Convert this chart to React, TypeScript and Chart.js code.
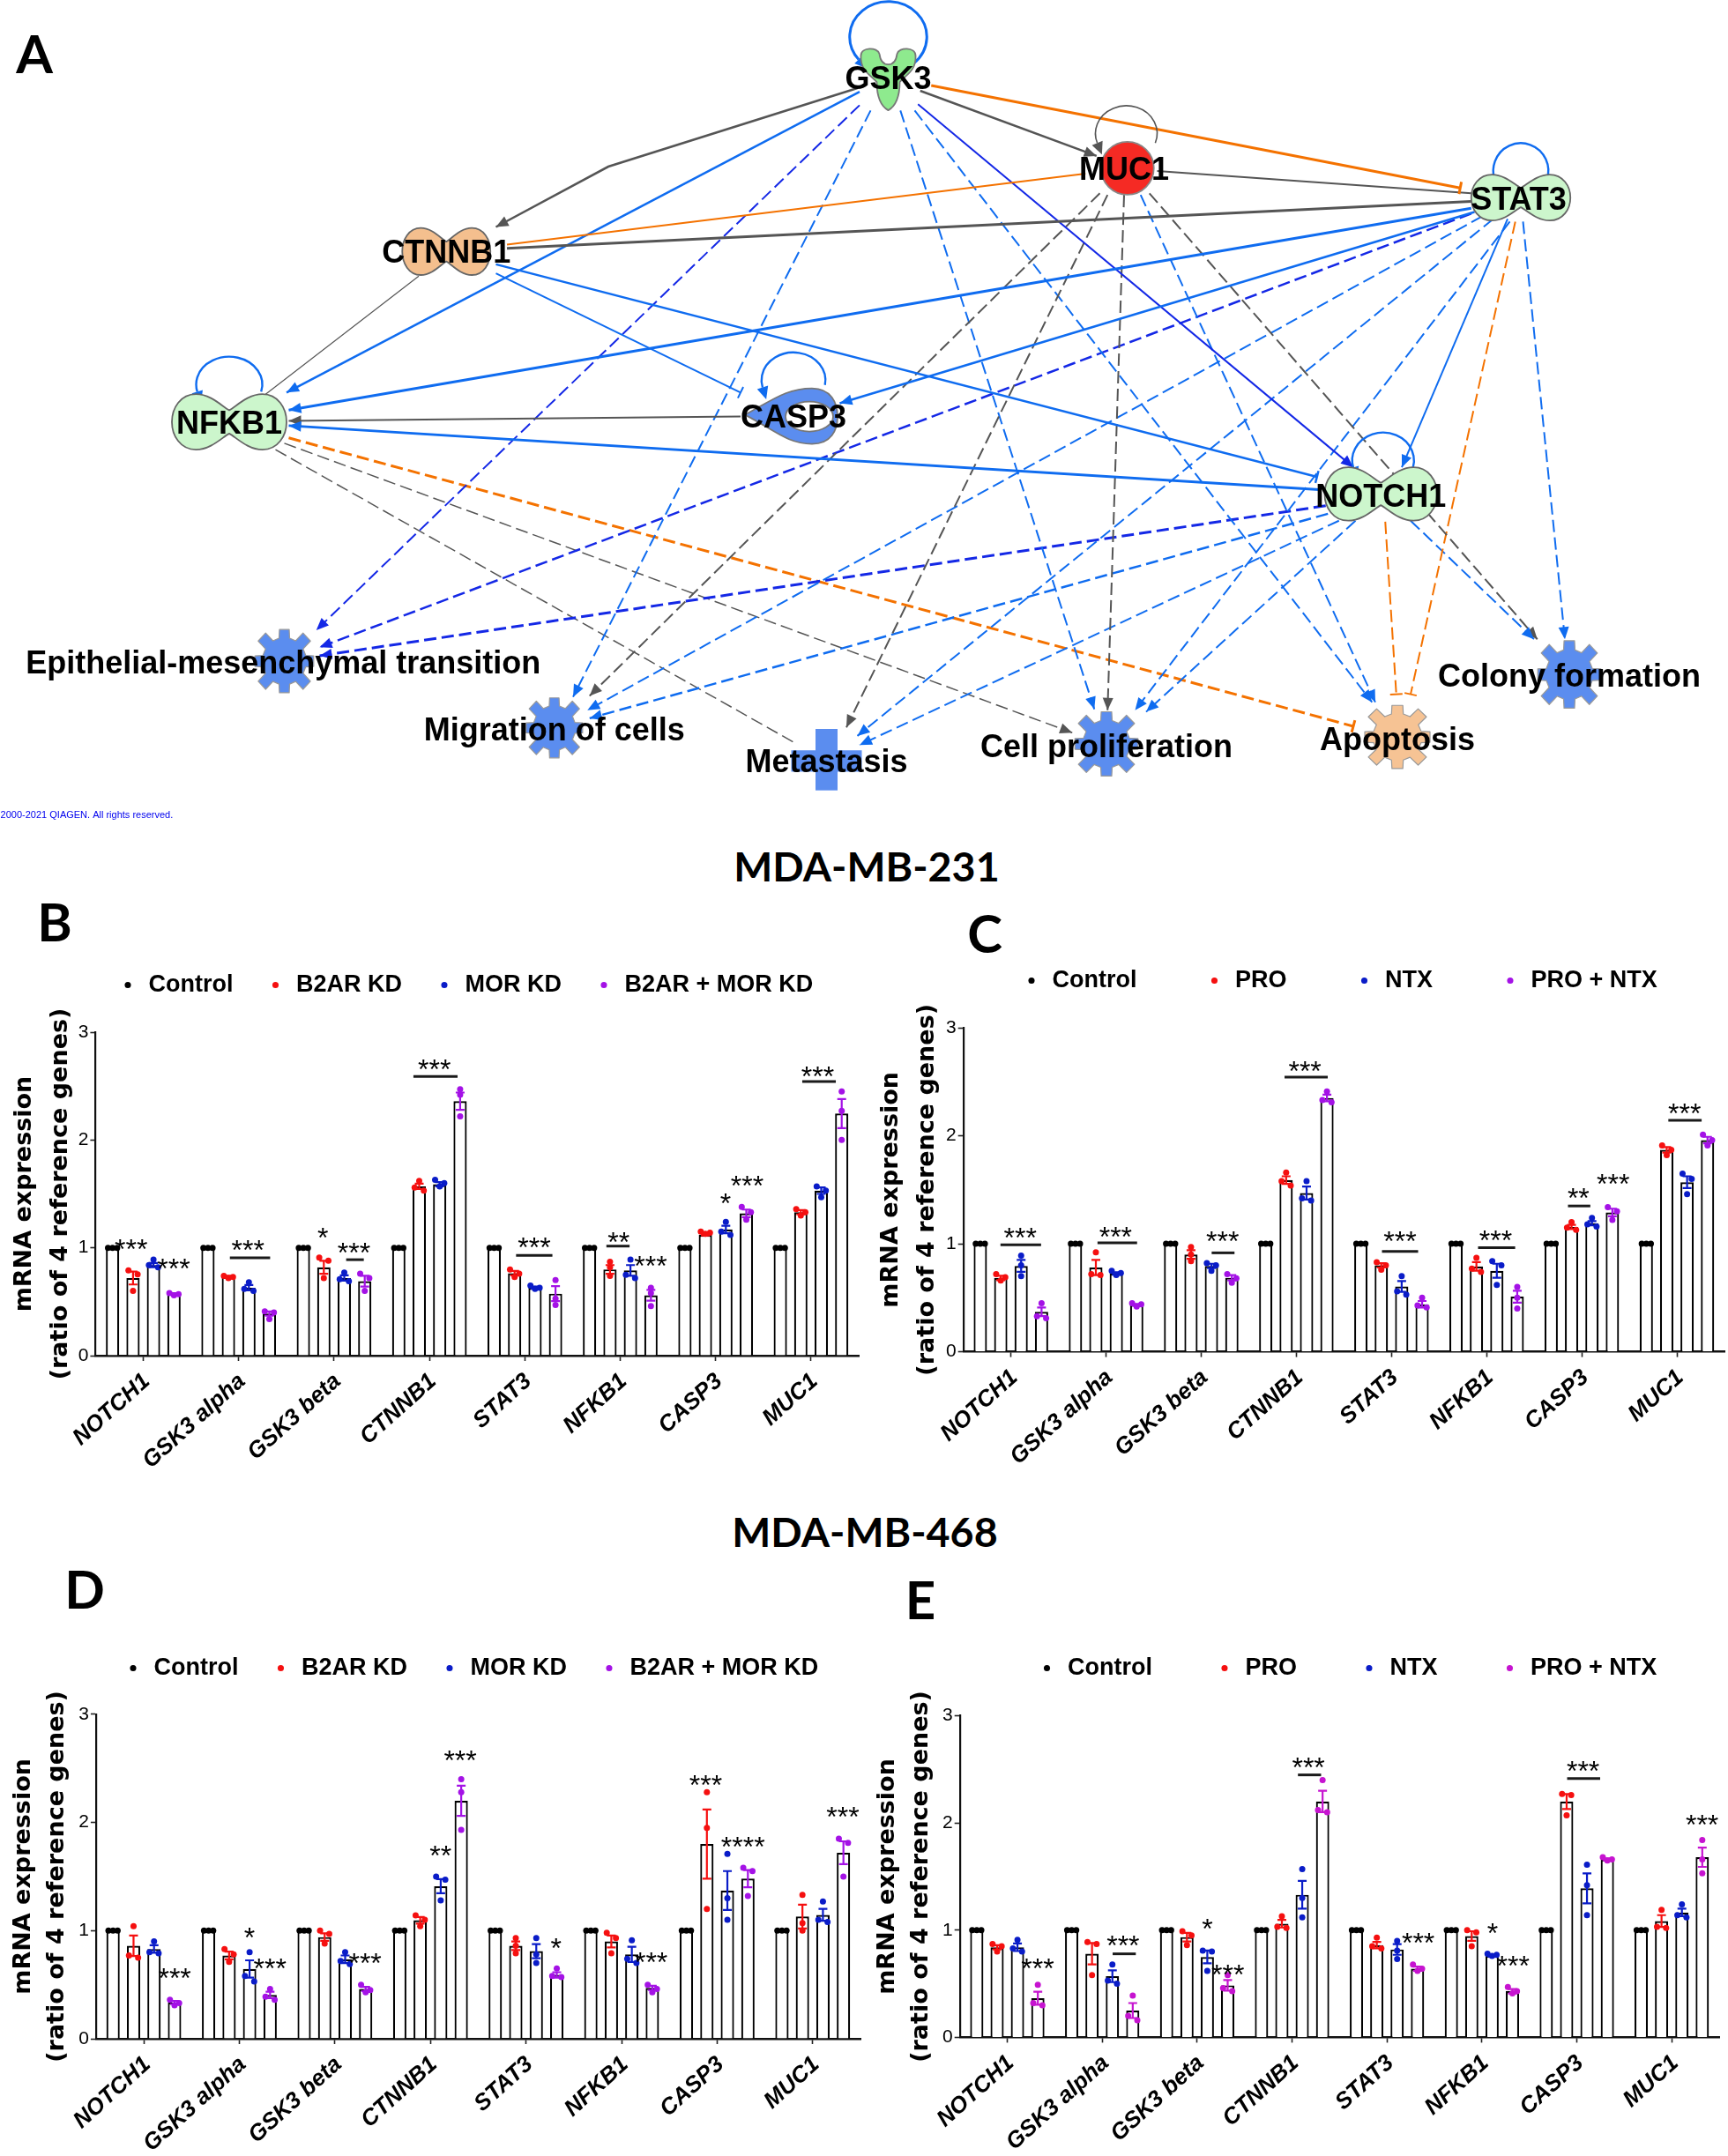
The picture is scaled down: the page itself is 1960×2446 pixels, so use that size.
import React, { useEffect, useRef } from "react";
import { Chart, registerables } from "chart.js";
Chart.register(...registerables);

const genes = ["NOTCH1", "GSK3 alpha", "GSK3 beta", "CTNNB1", "STAT3", "NFKB1", "CASP3", "MUC1"];
const yTickValues = [0, 1, 2, 3];
const controlMeans = [1, 1, 1, 1, 1, 1, 1, 1];
const controlDots = [1, 1, 1];

const legendKD = ["Control", "B2AR KD", "MOR KD", "B2AR + MOR KD"];
const legendDrug = ["Control", "PRO", "NTX", "PRO + NTX"];

// Panel B
const bMeans1 = [0.72, 0.73, 0.82, 1.57, 0.765, 0.8, 1.12, 1.33];
const bMeans2 = [0.84, 0.63, 0.72, 1.59, 0.63, 0.79, 1.17, 1.53];
const bMeans3 = [0.575, 0.39, 0.69, 2.36, 0.575, 0.56, 1.32, 2.245];
const bSem1 = [0.06, 0.01, 0.06, 0.025, 0.02, 0.04, 0.006, 0.02];
const bSem2 = [0.02, 0.025, 0.025, 0.02, 0.01, 0.05, 0.035, 0.03];
const bSem3 = [0.005, 0.02, 0.05, 0.08, 0.07, 0.05, 0.035, 0.135];
const bDots1 = [[0.79, 0.755, 0.6], [0.74, 0.73, 0.72], [0.91, 0.88, 0.72], [1.62, 1.56, 1.53], [0.8, 0.76, 0.73], [0.87, 0.82, 0.74], [1.15, 1.14, 1.13], [1.36, 1.33, 1.3]];
const bDots2 = [[0.89, 0.84, 0.82], [0.68, 0.62, 0.6], [0.77, 0.71, 0.69], [1.63, 1.6, 1.57], [0.65, 0.63, 0.62], [0.89, 0.75, 0.72], [1.24, 1.15, 1.12], [1.57, 1.53, 1.47]];
const bDots3 = [[0.58, 0.57, 0.56], [0.41, 0.4, 0.34], [0.76, 0.72, 0.6], [2.47, 2.42, 2.22], [0.7, 0.53, 0.47], [0.63, 0.58, 0.46], [1.38, 1.33, 1.26], [2.45, 2.27, 2.0]];
const bStars: [number, number, string][] = [[-0.127, 1.05, "***"], [0.318, 0.864, "***"], [1.098, 1.036, "***"], [1.884, 1.15, "*"], [2.208, 1.016, "***"], [3.052, 2.71, "***"], [4.098, 1.06, "***"], [4.983, 1.11, "**"], [5.318, 0.89, "***"], [6.104, 1.473, "*"], [6.33, 1.635, "***"], [7.07, 2.65, "***"]];
const bRules: [number, number, number][] = [[0.908, 1.33, 0.907], [2.127, 2.312, 0.89], [2.832, 3.295, 2.59], [3.908, 4.289, 0.93], [4.855, 5.098, 1.016], [6.908, 7.26, 2.543]];

// Panel C
const cMeans1 = [0.683, 0.78, 0.9, 1.59, 0.8, 0.79, 1.155, 1.87];
const cMeans2 = [0.795, 0.725, 0.795, 1.47, 0.605, 0.75, 1.19, 1.57];
const cMeans3 = [0.37, 0.435, 0.685, 2.35, 0.44, 0.51, 1.29, 1.96];
const cSem1 = [0.02, 0.07, 0.04, 0.035, 0.02, 0.04, 0.02, 0.025];
const cSem2 = [0.055, 0.012, 0.02, 0.06, 0.05, 0.065, 0.02, 0.055];
const cSem3 = [0.04, 0.008, 0.025, 0.03, 0.03, 0.055, 0.035, 0.03];
const cDots1 = [[0.72, 0.69, 0.66], [0.92, 0.72, 0.71], [0.97, 0.9, 0.84], [1.66, 1.58, 1.54], [0.83, 0.8, 0.76], [0.87, 0.77, 0.74], [1.2, 1.15, 1.13], [1.91, 1.87, 1.82]];
const cDots2 = [[0.89, 0.8, 0.7], [0.75, 0.73, 0.71], [0.82, 0.8, 0.75], [1.58, 1.42, 1.4], [0.7, 0.56, 0.53], [0.84, 0.8, 0.62], [1.24, 1.18, 1.16], [1.65, 1.6, 1.46]];
const cDots3 = [[0.45, 0.33, 0.31], [0.45, 0.44, 0.42], [0.72, 0.68, 0.64], [2.41, 2.33, 2.31], [0.5, 0.43, 0.41], [0.6, 0.5, 0.4], [1.34, 1.3, 1.22], [2.01, 1.96, 1.91]];
const cStars: [number, number, string][] = [[0.098, 1.116, "***"], [1.1, 1.123, "***"], [2.225, 1.086, "***"], [3.09, 2.66, "***"], [4.09, 1.086, "***"], [5.095, 1.092, "***"], [5.965, 1.478, "**"], [6.33, 1.613, "***"], [7.08, 2.262, "***"]];
const cRules: [number, number, number][] = [[-0.11, 0.317, 0.99], [0.91, 1.326, 1.008], [2.11, 2.35, 0.916], [2.876, 3.33, 2.543], [3.9, 4.28, 0.93], [4.91, 5.3, 0.964], [5.855, 6.09, 1.35], [6.91, 7.26, 2.144]];

// Panel D
const dMeans1 = [0.86, 0.77, 0.94, 1.095, 0.86, 0.9, 1.8, 1.13];
const dMeans2 = [0.83, 0.645, 0.735, 1.41, 0.81, 0.78, 1.37, 1.145];
const dMeans3 = [0.335, 0.405, 0.46, 2.2, 0.59, 0.47, 1.48, 1.72];
const dSem1 = [0.095, 0.035, 0.035, 0.03, 0.04, 0.055, 0.32, 0.11];
const dSem2 = [0.035, 0.08, 0.035, 0.065, 0.065, 0.07, 0.18, 0.055];
const dSem3 = [0.015, 0.03, 0.02, 0.14, 0.025, 0.02, 0.08, 0.105];
const dDots1 = [[1.04, 0.77, 0.75], [0.83, 0.78, 0.71], [1.0, 0.97, 0.88], [1.14, 1.1, 1.04], [0.93, 0.86, 0.79], [0.98, 0.93, 0.79], [2.28, 1.95, 1.2], [1.33, 1.07, 1.0]];
const dDots2 = [[0.9, 0.8, 0.79], [0.8, 0.58, 0.53], [0.8, 0.72, 0.69], [1.5, 1.47, 1.28], [0.93, 0.78, 0.7], [0.91, 0.74, 0.7], [1.71, 1.3, 1.1], [1.27, 1.1, 1.08]];
const dDots3 = [[0.36, 0.33, 0.31], [0.46, 0.39, 0.36], [0.5, 0.45, 0.43], [2.4, 2.28, 1.93], [0.65, 0.58, 0.57], [0.5, 0.46, 0.43], [1.58, 1.55, 1.32], [1.85, 1.81, 1.5]];
const dStars: [number, number, string][] = [[0.323, 0.623, "***"], [1.106, 0.997, "*"], [1.32, 0.709, "***"], [2.316, 0.761, "***"], [3.105, 1.754, "**"], [3.312, 2.63, "***"], [4.314, 0.9, "*"], [5.31, 0.768, "***"], [5.88, 2.405, "***"], [6.27, 1.834, "****"], [7.315, 2.107, "***"]];
const dRules: [number, number, number][] = [];

// Panel E
const eMeans1 = [0.84, 0.78, 0.935, 1.06, 0.86, 0.945, 2.2, 1.085];
const eMeans2 = [0.84, 0.57, 0.75, 1.33, 0.82, 0.76, 1.39, 1.165];
const eMeans3 = [0.365, 0.25, 0.485, 2.2, 0.64, 0.43, 1.66, 1.68];
const eSem1 = [0.02, 0.1, 0.04, 0.035, 0.03, 0.045, 0.07, 0.055];
const eSem2 = [0.035, 0.055, 0.06, 0.13, 0.05, 0.008, 0.14, 0.035];
const eSem3 = [0.06, 0.07, 0.05, 0.1, 0.02, 0.02, 0.01, 0.09];
const eDots1 = [[0.87, 0.85, 0.8], [0.89, 0.87, 0.58], [0.99, 0.95, 0.86], [1.13, 1.03, 1.02], [0.93, 0.85, 0.83], [1.0, 0.98, 0.85], [2.27, 2.26, 2.07], [1.19, 1.03, 1.02]];
const eDots2 = [[0.91, 0.83, 0.8], [0.68, 0.53, 0.5], [0.81, 0.8, 0.62], [1.57, 1.3, 1.12], [0.9, 0.81, 0.73], [0.78, 0.77, 0.76], [1.61, 1.42, 1.14], [1.24, 1.14, 1.12]];
const eDots3 = [[0.49, 0.32, 0.3], [0.39, 0.2, 0.16], [0.58, 0.46, 0.43], [2.4, 2.12, 2.1], [0.68, 0.64, 0.62], [0.47, 0.43, 0.41], [1.68, 1.66, 1.65], [1.84, 1.66, 1.53]];
const eStars: [number, number, string][] = [[0.32, 0.702, "***"], [1.22, 0.919, "***"], [2.109, 1.076, "*"], [2.324, 0.643, "***"], [3.173, 2.578, "***"], [4.329, 0.94, "***"], [5.113, 1.034, "*"], [5.328, 0.727, "***"], [6.066, 2.543, "***"], [7.32, 2.04, "***"]];
const eRules: [number, number, number][] = [[1.11, 1.354, 0.779], [3.062, 3.306, 2.448], [5.898, 6.246, 2.414]];

const panels = [
  { id: "B", legend: legendKD, means: [controlMeans, bMeans1, bMeans2, bMeans3], sems: [null, bSem1, bSem2, bSem3], dots: [bDots1, bDots2, bDots3], stars: bStars, rules: bRules, colors: ["#000000", "#f51010", "#0a1cc8", "#a412e6"], box: [0, 1100, 980, 600], plot: [108.4, 974, 1171, 1538], legendAt: [135, 1118], legendGap: 38, titleOffset: 7.5, titleLine: 41 },
  { id: "C", legend: legendDrug, means: [controlMeans, cMeans1, cMeans2, cMeans3], sems: [null, cSem1, cSem2, cSem3], dots: [cDots1, cDots2, cDots3], stars: cStars, rules: cRules, colors: ["#000000", "#f51010", "#0a1cc8", "#a412e6"], box: [980, 1080, 980, 620], plot: [1092.7, 1960, 1166, 1533.6], legendAt: [1160, 1113], legendGap: 78, titleOffset: 10.5, titleLine: 41 },
  { id: "D", legend: legendKD, means: [controlMeans, dMeans1, dMeans2, dMeans3], sems: [null, dSem1, dSem2, dSem3], dots: [dDots1, dDots2, dDots3], stars: dStars, rules: dRules, colors: ["#000000", "#f51010", "#0a1cc8", "#a412e6"], box: [0, 1860, 980, 586], plot: [108.9, 976, 1944.8, 2313], legendAt: [141, 1893], legendGap: 38, titleOffset: 7.5, titleLine: 38 },
  { id: "E", legend: legendDrug, means: [controlMeans, eMeans1, eMeans2, eMeans3], sems: [null, eSem1, eSem2, eSem3], dots: [eDots1, eDots2, eDots3], stars: eStars, rules: eRules, colors: ["#000000", "#f51010", "#0a1cc8", "#c614d0"], box: [980, 1860, 980, 586], plot: [1088.7, 1950, 1946.5, 2311.4], legendAt: [1177.5, 1893], legendGap: 72, titleOffset: 8, titleLine: 38 },
];

const SANS = "'Liberation Sans', Arial, sans-serif";
const BAR_STEP = 0.2145;

function spread(v: number[]) {
  const o = [0, 0, 0];
  if (v[0] - v[1] < 0.05) { o[0] = -1; o[1] = 1; }
  if (v[1] - v[2] < 0.05) {
    if (o[1] === 0) { o[1] = -1; o[2] = 1; } else { o[2] = 0; }
  }
  return o;
}

function barConfig(p: any) {
  const [cl, ct, cw, ch] = p.box;
  const [pl, pr, pt, pb] = p.plot;
  const datasets: any[] = p.means.map((m: number[], k: number) => ({
    type: "bar", label: p.legend[k] + " mean", data: m.map((y, x) => ({ x, y })), xAxisID: "x", yAxisID: "y",
    backgroundColor: "#ffffff", borderColor: "#000000", borderWidth: 2.2, borderSkipped: "bottom",
    categoryPercentage: 0.858, barPercentage: 0.65, order: 3,
  }));
  p.means.forEach((_: number[], k: number) => {
    const rows = k === 0 ? genes.map(() => controlDots) : p.dots[k - 1];
    const pts: any[] = [];
    rows.forEach((vals: number[], g: number) => {
      const off = k === 0 ? [-1, 0, 1] : spread(vals);
      vals.forEach((y: number, j: number) => pts.push({ x: g + (k - 1.5) * BAR_STEP + off[j] * 0.048, y }));
    });
    datasets.push({
      type: "scatter", label: p.legend[k], data: pts, xAxisID: "x", yAxisID: "y",
      backgroundColor: p.colors[k], borderColor: p.colors[k], pointBackgroundColor: p.colors[k], pointBorderColor: p.colors[k],
      pointRadius: 3.5, pointBorderWidth: 0, pointStyle: "circle", order: 1,
    });
  });
  const marks = {
    id: "marks",
    afterDatasetsDraw(c: any) {
      const { ctx, scales } = c;
      const xs = scales.x, ys = scales.y;
      ctx.save();
      p.sems.forEach((s: number[] | null, k: number) => {
        if (!s) return;
        ctx.strokeStyle = p.colors[k];
        ctx.lineWidth = 2.2;
        s.forEach((e, g) => {
          const x = xs.getPixelForValue(g + (k - 1.5) * BAR_STEP);
          const m = p.means[k][g];
          const y1 = ys.getPixelForValue(m + e), y2 = ys.getPixelForValue(m - e);
          ctx.beginPath();
          ctx.moveTo(x, y1); ctx.lineTo(x, y2);
          ctx.moveTo(x - 5, y1); ctx.lineTo(x + 5, y1);
          ctx.moveTo(x - 5, y2); ctx.lineTo(x + 5, y2);
          ctx.stroke();
        });
      });
      ctx.strokeStyle = "#1a1a1a";
      ctx.lineWidth = 3;
      p.rules.forEach(([a, b, v]: number[]) => {
        const y = ys.getPixelForValue(v);
        ctx.beginPath(); ctx.moveTo(xs.getPixelForValue(a), y); ctx.lineTo(xs.getPixelForValue(b), y); ctx.stroke();
      });
      ctx.fillStyle = "#000";
      ctx.font = `32px ${SANS}`;
      ctx.textAlign = "center";
      ctx.textBaseline = "alphabetic";
      p.stars.forEach(([a, v, t]: [number, number, string]) => {
        ctx.fillText(t, xs.getPixelForValue(a), ys.getPixelForValue(v) + 18);
      });
      ctx.restore();
    },
  };
  const placeLegend = {
    id: "placeLegend",
    afterLayout(c: any) {
      const lg = c.legend;
      lg.maxWidth = 3000;
      lg.fit();
      lg.left = p.legendAt[0] - cl - p.legendGap;
      lg.right = 3000;
      lg.width = lg.right - lg.left;
      lg.top = p.legendAt[1] - ct - p.legendGap - 14;
      lg.bottom = lg.top + 200;
      lg.height = 200;
    },
  };
  return {
    type: "bar",
    data: { datasets },
    plugins: [marks, placeLegend],
    options: {
      animation: false, responsive: false, devicePixelRatio: 1, events: [],
      layout: { padding: { top: pt - ct - 1, right: cl + cw - pr, left: 0, bottom: 0 } },
      plugins: {
        tooltip: { enabled: false },
        legend: {
          position: "top", align: "start", maxHeight: 1,
          labels: {
            usePointStyle: true, boxHeight: 5, boxWidth: 20, padding: p.legendGap, color: "#000",
            font: { family: SANS, size: 27, weight: "bold" },
            filter: (it: any) => it.datasetIndex >= 4,
          },
        },
      },
      scales: {
        x: {
          type: "linear", position: "bottom", min: -0.5, max: 7.5, offset: false,
          afterBuildTicks(s: any) { s.ticks = genes.map((_, value) => ({ value })); },
          grid: { display: true, drawOnChartArea: false, drawTicks: true, tickLength: 6, tickColor: "#222", tickWidth: 1.6, offset: false },
          border: { display: true, color: "#111", width: 2.4 },
          ticks: { autoSkip: false, maxRotation: 42, minRotation: 42, padding: 8, labelOffset: 4, color: "#000", font: { family: SANS, size: 26, weight: "bold", style: "italic" }, callback: (v: number) => genes[v] },
          afterFit(s: any) { s.height = ct + ch - pb; },
        },
        y: {
          type: "linear", min: 0, max: 3,
          afterBuildTicks(s: any) { s.ticks = yTickValues.map((value) => ({ value })); },
          grid: { display: true, drawOnChartArea: false, drawTicks: true, tickLength: 6, tickColor: "#222", tickWidth: 1.6 },
          border: { display: true, color: "#111", width: 2.2 },
          ticks: { padding: 2, color: "#000", font: { family: SANS, size: 21 } },
          title: {
            display: true, text: ["mRNA expression", "(ratio of 4 reference genes)"], color: "#000",
            padding: { top: p.titleOffset, bottom: 0 },
            font: { family: "'DejaVu Sans', sans-serif", size: 27, weight: "bold", lineHeight: `${p.titleLine}px` },
          },
          afterFit(s: any) { s.width = pl - cl; },
        },
      },
    },
  };
}

// ---------- Panel A network, all values in the 1568 x 1568 network frame ----------
const BLUE = "#0f6cf0", DARK = "#1428e6", GREY = "#555555", ORANGE = "#f47200";
const edges: [number[], string, number, boolean, string][] = [
  [[835, 170, 995, 292], GREY, 2.5, false, "arrow"],
  [[778, 165, 552, 312, 450, 425], GREY, 2.5, false, "arrow"],
  [[845, 160, 1325, 352], ORANGE, 3, false, "bar"],
  [[985, 325, 460, 458], ORANGE, 2, false, "none"],
  [[1050, 320, 1335, 362], GREY, 2, false, "none"],
  [[1335, 377, 460, 465], GREY, 3, false, "none"],
  [[780, 172, 260, 735], BLUE, 2.5, false, "arrow"],
  [[1335, 390, 262, 768], BLUE, 3, false, "arrow"],
  [[1338, 397, 762, 755], BLUE, 2.5, false, "arrow"],
  [[450, 512, 672, 735], BLUE, 2, false, "bar"],
  [[450, 495, 1195, 893], BLUE, 2.5, false, "bar"],
  [[672, 780, 262, 788], GREY, 2, false, "arrow"],
  [[1197, 917, 262, 797], BLUE, 3, false, "arrow"],
  [[380, 517, 240, 740], GREY, 1.2, false, "none"],
  [[833, 195, 1228, 875], DARK, 2, false, "arrow"],
  [[1368, 410, 1272, 875], BLUE, 2, false, "arrow"],
  [[1043, 362, 1395, 1197], GREY, 2, true, "arrow"],
  [[1005, 365, 768, 1362], GREY, 2, true, "arrow"],
  [[998, 362, 535, 1303], GREY, 2, true, "arrow"],
  [[1020, 365, 1005, 1330], GREY, 2, true, "arrow"],
  [[1035, 365, 1248, 1315], BLUE, 2, true, "arrow"],
  [[780, 197, 287, 1180], DARK, 2, true, "arrow"],
  [[790, 207, 520, 1305], BLUE, 2, true, "arrow"],
  [[817, 207, 993, 1328], BLUE, 2, true, "arrow"],
  [[830, 207, 1245, 1315], BLUE, 2, true, "arrow"],
  [[1335, 400, 290, 1212], DARK, 2.5, true, "arrow"],
  [[1345, 405, 533, 1330], BLUE, 2, true, "arrow"],
  [[1355, 410, 778, 1378], BLUE, 2, true, "arrow"],
  [[1370, 415, 1030, 1330], BLUE, 2, true, "arrow"],
  [[1375, 415, 1280, 1300], ORANGE, 2, true, "bar"],
  [[1382, 415, 1420, 1197], BLUE, 2, true, "arrow"],
  [[1203, 947, 290, 1228], DARK, 3, true, "arrow"],
  [[1205, 962, 535, 1345], BLUE, 2.5, true, "arrow"],
  [[1215, 975, 780, 1395], BLUE, 2, true, "arrow"],
  [[1230, 975, 1040, 1333], BLUE, 2, true, "arrow"],
  [[1257, 977, 1267, 1300], ORANGE, 2, true, "bar"],
  [[1280, 975, 1392, 1197], BLUE, 2, true, "arrow"],
  [[262, 820, 1228, 1360], ORANGE, 3, true, "bar"],
  [[258, 830, 973, 1372], GREY, 1.5, true, "arrow"],
  [[250, 842, 722, 1392], GREY, 1.5, true, "none"],
];
const selfLoops: [number, number, number, number, string, number, number, number][] = [
  [806, 69, 35, 66, BLUE, 48, 140, 3],
  [1022, 250, 28, 52, "#555555", 20, 160, 1.6],
  [1380, 320, 25, 52, BLUE, 20, 165, 2.4],
  [208, 720, 30, 52, BLUE, 15, 165, 2.4],
  [720, 712, 29, 52, BLUE, 10, 165, 2.4],
  [1255, 862, 28, 52, BLUE, 25, 165, 2.4],
];
const peanuts: [number, number, number, number, string][] = [
  [1380, 370, 45, 43, "#ccf6cc"],
  [405, 471, 40, 44, "#f4bf8e"],
  [208, 790, 52, 52, "#ccf6cc"],
  [1253, 925, 51, 50, "#ccf6cc"],
];
const gearNodes: [number, number, number, number, string][] = [
  [258, 1238, 27, 60, "#5b8def"],
  [503, 1363, 26, 57, "#5b8def"],
  [1004, 1393, 29, 61, "#5b8def"],
  [1268, 1380, 30, 60, "#f6c394"],
  [1424, 1263, 29, 64, "#5b8def"],
];
const nodeLabels: [string, number, number][] = [
  ["GSK3", 806, 145], ["MUC1", 1020, 315], ["STAT3", 1378, 372], ["CTNNB1", 405, 470], ["NFKB1", 208, 790], ["CASP3", 720, 780], ["NOTCH1", 1253, 927],
  ["Epithelial-mesenchymal transition", 257, 1240], ["Migration of cells", 503, 1365], ["Metastasis", 750, 1425], ["Cell proliferation", 1004, 1397], ["Apoptosis", 1268, 1383], ["Colony formation", 1424, 1265],
];

function networkConfig() {
  const datasets = edges.map(([path, color, width, dashed]) => {
    const data: any[] = [];
    for (let i = 0; i < path.length; i += 2) data.push({ x: path[i], y: path[i + 1] });
    return { type: "scatter", data, showLine: true, borderColor: color, borderWidth: width, borderDash: dashed ? [14, 6] : [], pointRadius: 0, fill: false, tension: 0 };
  });
  const draw = {
    id: "network",
    afterDatasetsDraw(c: any) {
      const { ctx, scales } = c;
      const X = (v: number) => scales.x.getPixelForValue(v);
      const Y = (v: number) => scales.y.getPixelForValue(v);
      const sx = X(1) - X(0), sy = Y(1) - Y(0);
      ctx.save();
      ctx.lineJoin = "round";
      edges.forEach(([path, color, width, , end]) => {
        if (end === "none") return;
        const n = path.length;
        const x2 = X(path[n - 2]), y2 = Y(path[n - 1]), x1 = X(path[n - 4]), y1 = Y(path[n - 3]);
        const a = Math.atan2(y2 - y1, x2 - x1);
        ctx.fillStyle = color; ctx.strokeStyle = color;
        if (end === "arrow") {
          ctx.beginPath();
          ctx.moveTo(x2, y2);
          ctx.lineTo(x2 - 14 * Math.cos(a) + 6 * Math.sin(a), y2 - 14 * Math.sin(a) - 6 * Math.cos(a));
          ctx.lineTo(x2 - 14 * Math.cos(a) - 6 * Math.sin(a), y2 - 14 * Math.sin(a) + 6 * Math.cos(a));
          ctx.closePath(); ctx.fill();
        } else {
          ctx.lineWidth = width;
          ctx.beginPath();
          ctx.moveTo(x2 + 7 * Math.sin(a), y2 - 7 * Math.cos(a));
          ctx.lineTo(x2 - 7 * Math.sin(a), y2 + 7 * Math.cos(a));
          ctx.stroke();
        }
      });
      selfLoops.forEach(([cx, cy, rx, ry, color, a0, a1, lw]) => {
        const RX = rx * sx, RY = ry * sy, a = (a1 * Math.PI) / 180;
        ctx.strokeStyle = color; ctx.lineWidth = lw;
        ctx.beginPath();
        ctx.ellipse(X(cx), Y(cy), RX, RY, 0, (a0 * Math.PI) / 180, a, true);
        ctx.stroke();
        const ax = X(cx) + RX * Math.cos(a), ay = Y(cy) + RY * Math.sin(a);
        const dir = Math.atan2(-RY * Math.cos(a), RX * Math.sin(a));
        ctx.fillStyle = color;
        ctx.beginPath();
        ctx.moveTo(ax + 14 * Math.cos(dir), ay + 14 * Math.sin(dir));
        ctx.lineTo(ax + 6.5 * Math.sin(dir), ay - 6.5 * Math.cos(dir));
        ctx.lineTo(ax - 6.5 * Math.sin(dir), ay + 6.5 * Math.cos(dir));
        ctx.closePath(); ctx.fill();
      });
      ctx.strokeStyle = "#666"; ctx.lineWidth = 1.8;
      peanuts.forEach(([cx, cy, w0, h0, fill]) => {
        const x = X(cx), y = Y(cy), w = w0 * sx, h = h0 * sy;
        ctx.fillStyle = fill;
        ctx.beginPath();
        ctx.moveTo(x, y - h * 0.42);
        ctx.bezierCurveTo(x - w * 0.12, y - h * 0.55, x - w * 0.32, y - h, x - w * 0.58, y - h);
        ctx.bezierCurveTo(x - w * 0.85, y - h, x - w, y - h * 0.5, x - w, y);
        ctx.bezierCurveTo(x - w, y + h * 0.5, x - w * 0.85, y + h, x - w * 0.58, y + h);
        ctx.bezierCurveTo(x - w * 0.32, y + h, x - w * 0.12, y + h * 0.55, x, y + h * 0.42);
        ctx.bezierCurveTo(x + w * 0.12, y + h * 0.55, x + w * 0.32, y + h, x + w * 0.58, y + h);
        ctx.bezierCurveTo(x + w * 0.85, y + h, x + w, y + h * 0.5, x + w, y);
        ctx.bezierCurveTo(x + w, y - h * 0.5, x + w * 0.85, y - h, x + w * 0.58, y - h);
        ctx.bezierCurveTo(x + w * 0.32, y - h, x + w * 0.12, y - h * 0.55, x, y - h * 0.42);
        ctx.closePath(); ctx.fill(); ctx.stroke();
      });
      // GSK3 enzyme shape
      {
        const ox = X(806), oy = Y(91);
        ctx.fillStyle = "#8eea8e";
        ctx.strokeStyle = "#777";
        ctx.beginPath();
        ctx.moveTo(ox, oy + 70);
        ctx.bezierCurveTo(ox - 10, oy + 64, ox - 13, oy + 52, ox - 13, oy + 38);
        ctx.bezierCurveTo(ox - 20, oy + 30, ox - 32, oy + 25, ox - 31, oy + 8);
        ctx.bezierCurveTo(ox - 31, oy - 2, ox - 12, oy - 2, ox - 10, oy + 6);
        ctx.bezierCurveTo(ox - 9, oy + 14, ox - 5, oy + 18, ox, oy + 18);
        ctx.bezierCurveTo(ox + 5, oy + 18, ox + 9, oy + 14, ox + 10, oy + 6);
        ctx.bezierCurveTo(ox + 12, oy - 2, ox + 31, oy - 2, ox + 31, oy + 8);
        ctx.bezierCurveTo(ox + 32, oy + 25, ox + 20, oy + 30, ox + 13, oy + 38);
        ctx.bezierCurveTo(ox + 13, oy + 52, ox + 10, oy + 64, ox, oy + 70);
        ctx.closePath(); ctx.fill(); ctx.stroke();
      }
      // MUC1
      ctx.fillStyle = "#f52a24"; ctx.strokeStyle = "#888";
      ctx.beginPath(); ctx.ellipse(X(1023), Y(315), 30, 30, 0, 0, Math.PI * 2); ctx.fill(); ctx.stroke();
      // CASP3 ring
      {
        const ox = X(734.4), oy = Y(780);
        ctx.fillStyle = "#5b8def"; ctx.strokeStyle = "#777";
        ctx.beginPath();
        ctx.moveTo(ox - 73, oy - 2);
        ctx.bezierCurveTo(ox - 40, oy - 20, ox - 25, oy - 32, ox + 3, oy - 32);
        ctx.bezierCurveTo(ox + 25, oy - 32, ox + 32, oy - 15, ox + 32, oy);
        ctx.bezierCurveTo(ox + 32, oy + 15, ox + 25, oy + 31, ox + 3, oy + 31);
        ctx.bezierCurveTo(ox - 25, oy + 31, ox - 40, oy + 15, ox - 73, oy - 2);
        ctx.closePath(); ctx.fill(); ctx.stroke();
        ctx.fillStyle = "#fff";
        ctx.beginPath(); ctx.ellipse(ox, oy, 27, 17, 0, 0, Math.PI * 2); ctx.fill(); ctx.stroke();
      }
      // gears
      gearNodes.forEach(([cx, cy, rx0, ry0, fill]) => {
        const x = X(cx), y = Y(cy), rx = rx0 * sx, ry = ry0 * sy;
        ctx.fillStyle = fill; ctx.strokeStyle = "#999"; ctx.lineWidth = 1.2;
        ctx.beginPath();
        const n = 8;
        for (let i = 0; i < n; i++) {
          const t = (i * 2 * Math.PI) / n - Math.PI / 2;
          const d = Math.PI / n;
          const tip = i % 2 ? 1.08 : 1;
          const pts = [[t - d * 0.42, tip], [t + d * 0.42, tip], [t + d * 0.62, 0.74], [t + d * 1.38, 0.74]];
          pts.forEach(([ang, r], j) => {
            const px = x + rx * r * Math.cos(ang), py = y + ry * r * Math.sin(ang);
            if (i === 0 && j === 0) ctx.moveTo(px, py); else ctx.lineTo(px, py);
          });
        }
        ctx.closePath(); ctx.fill(); ctx.stroke();
      });
      // Metastasis cross
      ctx.fillStyle = "#5b8def";
      ctx.fillRect(X(740), Y(1365), X(760) - X(740), Y(1480) - Y(1365));
      ctx.fillRect(X(718), Y(1405), X(782) - X(718), Y(1445) - Y(1405));
      // labels
      ctx.fillStyle = "#000";
      ctx.font = `bold 36px ${SANS}`;
      ctx.textAlign = "center"; ctx.textBaseline = "middle";
      nodeLabels.forEach(([t, x, y]) => ctx.fillText(t, X(x), Y(y) + 3));
      ctx.font = `11px ${SANS}`;
      ctx.fillStyle = "#0000ee";
      ctx.textAlign = "right";
      ctx.fillText("© 2000-2021 QIAGEN. All rights reserved.", X(157), Y(1526));
      ctx.restore();
    },
  };
  return {
    type: "scatter",
    data: { datasets },
    plugins: [draw],
    options: {
      animation: false, responsive: false, devicePixelRatio: 1, events: [],
      plugins: { legend: { display: false }, tooltip: { enabled: false } },
      layout: { padding: 0 },
      scales: {
        x: { type: "linear", display: false, min: 0, max: 1568 },
        y: { type: "linear", display: false, min: 0, max: 1568, reverse: true },
      },
    },
  };
}

const headings: [string, number, number, number][] = [
  ["MDA-MB-231", 983, 982, 46.6],
  ["MDA-MB-468", 981, 1737, 46.6],
  ["A", 39, 60, 60],
  ["B", 62, 1045, 60],
  ["C", 1117, 1058, 60],
  ["D", 96, 1802, 60],
  ["E", 1044, 1814, 60],
];

function ChartCanvas({ config, style, w, h }: any) {
  const ref = useRef<HTMLCanvasElement>(null);
  useEffect(() => {
    const chart = new Chart(ref.current as any, config());
    return () => chart.destroy();
  }, []);
  return <canvas ref={ref} width={w} height={h} style={{ position: "absolute", display: "block", width: w, height: h, ...style }} />;
}

export default function App() {
  return (
    <div style={{ position: "absolute", left: 0, top: 0, width: 1960, height: 2446, background: "#fff", overflow: "hidden" }}>
      <ChartCanvas config={networkConfig} w={1960} h={950} style={{ left: 0, top: 0 }} />
      {panels.map((p) => (
        <ChartCanvas key={p.id} config={() => barConfig(p)} w={p.box[2]} h={p.box[3]} style={{ left: p.box[0], top: p.box[1] }} />
      ))}
      {headings.map(([t, x, y, s]) => (
        <div key={t} style={{ position: "absolute", left: x, top: y, transform: "translate(-50%,-50%)", font: `bold ${s}px Lato, sans-serif`, color: "#000", whiteSpace: "nowrap", lineHeight: 1 }}>{t}</div>
      ))}
    </div>
  );
}
